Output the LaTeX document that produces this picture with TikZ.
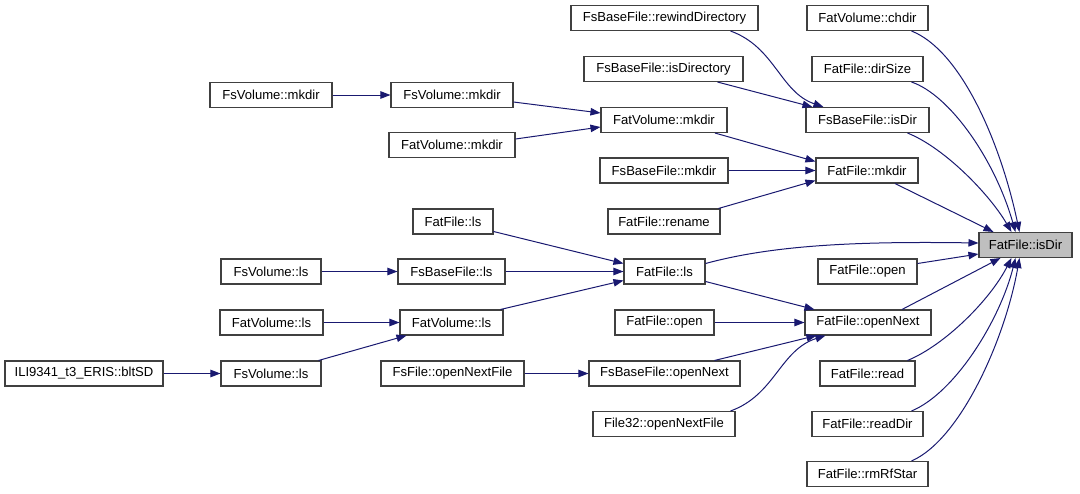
\documentclass[tikz,border=0pt]{standalone}
\usepackage{fontspec}
\setmainfont{Liberation Sans}
\usetikzlibrary{arrows.meta,calc}
\definecolor{edgeblue}{HTML}{191970}
\definecolor{boxline}{HTML}{404040}
\definecolor{focusfill}{HTML}{BFBFBF}
\begin{document}
\begin{tikzpicture}[x=0.75pt,y=-0.75pt,
  fn/.style={draw=boxline,line width=0.8pt,fill=white,rectangle,inner sep=0pt,
    minimum height=25*0.75pt,font=\fontsize{9.8}{12}\selectfont},
  focus/.style={fn,fill=focusfill},
  call/.style={draw=edgeblue,line width=0.75pt,
    -{Triangle[length=7.5pt,width=5.6pt]}}]
\useasboundingbox (0,0) rectangle (1080,493);

% target function
\node[focus,minimum width=93*0.75pt] (isDir) at (1025.5,245) {FatFile::isDir};

% direct callers
\node[fn,minimum width=121*0.75pt] (chdir)    at (867.5,18)    {FatVolume::chdir};
\node[fn,minimum width=111*0.75pt] (dirSize)  at (867.5,69)    {FatFile::dirSize};
\node[fn,minimum width=123*0.75pt] (fsIsDir)  at (867.5,120)   {FsBaseFile::isDir};
\node[fn,minimum width=102*0.75pt] (fatMkdir) at (867,170.5)   {FatFile::mkdir};
\node[fn,minimum width=99*0.75pt]  (fatOpenR) at (867.5,271.5) {FatFile::open};
\node[fn,minimum width=126*0.75pt] (openNext) at (868,322.5)   {FatFile::openNext};
\node[fn,minimum width=95*0.75pt]  (read)     at (867.5,373.5) {FatFile::read};
\node[fn,minimum width=111*0.75pt] (readDir)  at (867.5,424)   {FatFile::readDir};
\node[fn,minimum width=121*0.75pt] (rmRfStar) at (867.5,474)   {FatFile::rmRfStar};

% second level
\node[fn,minimum width=187*0.75pt] (rewindDir)      at (664.5,18)    {FsBaseFile::rewindDirectory};
\node[fn,minimum width=159*0.75pt] (isDirectory)    at (663.5,69)    {FsBaseFile::isDirectory};
\node[fn,minimum width=126*0.75pt] (fatVolMkdirR)   at (664,120)     {FatVolume::mkdir};
\node[fn,minimum width=128*0.75pt] (fsBaseMkdir)    at (664,170.5)   {FsBaseFile::mkdir};
\node[fn,minimum width=112*0.75pt] (rename)         at (664,221.5)   {FatFile::rename};
\node[fn,minimum width=81*0.75pt]  (fatLsM)         at (664.5,271.5) {FatFile::ls};
\node[fn,minimum width=99*0.75pt]  (fatOpenM)       at (664.5,322.5) {FatFile::open};
\node[fn,minimum width=151*0.75pt] (fsBaseOpenNext) at (664.5,373.5) {FsBaseFile::openNext};
\node[fn,minimum width=142*0.75pt] (file32)         at (664,424)     {File32::openNextFile};

% third level
\node[fn,minimum width=122*0.75pt] (fsVolMkdirM)    at (452,95)      {FsVolume::mkdir};
\node[fn,minimum width=126*0.75pt] (fatVolMkdirL)   at (452,145)     {FatVolume::mkdir};
\node[fn,minimum width=80*0.75pt]  (fatLsL)         at (453,221.5)   {FatFile::ls};
\node[fn,minimum width=107*0.75pt] (fsBaseLs)       at (451.5,271.5) {FsBaseFile::ls};
\node[fn,minimum width=103*0.75pt] (fatVolLsM)      at (451.5,322.5) {FatVolume::ls};
\node[fn,minimum width=143*0.75pt] (fsFileOpenNext) at (452.5,373.5) {FsFile::openNextFile};

% fourth level
\node[fn,minimum width=122*0.75pt] (fsVolMkdirL) at (271,95)      {FsVolume::mkdir};
\node[fn,minimum width=100*0.75pt] (fsVolLsT)    at (271,271.5)   {FsVolume::ls};
\node[fn,minimum width=103*0.75pt] (fatVolLsL)   at (271.5,322.5) {FatVolume::ls};
\node[fn,minimum width=100*0.75pt] (fsVolLsB)    at (271,373.5)   {FsVolume::ls};

% fifth level
\node[fn,minimum width=158*0.75pt] (bltSD) at (84,373.5) {ILI9341\_t3\_ERIS::bltSD};

% --- call edges ---
\draw[call] (fsVolMkdirL.east) -- (fsVolMkdirM.west);
\draw[call] ($(fsVolMkdirM.east)+(0,7)$) -- ($(fatVolMkdirR.west)+(0,-7)$);
\draw[call] ($(fatVolMkdirL.east)+(0,-6)$) -- ($(fatVolMkdirR.west)+(0,7)$);
\draw[call] ($(fatVolMkdirR.south)+(51,0)$) -- ($(fatMkdir.west)+(0,-9)$);
\draw[call] (fsBaseMkdir.east) -- (fatMkdir.west);
\draw[call] ($(rename.north east)+(-2,0)$) -- ($(fatMkdir.west)+(0,10)$);

\draw[call] ($(fatLsL.east)+(0,10)$) -- ($(fatLsM.west)+(0,-8)$);
\draw[call] (fsVolLsT.east) -- (fsBaseLs.west);
\draw[call] (fsBaseLs.east) -- (fatLsM.west);
\draw[call] (fatVolLsL.east) -- (fatVolLsM.west);
\draw[call] ($(fatVolLsM.north east)+(-3,0)$) -- ($(fatLsM.west)+(0,9)$);
\draw[call] (bltSD.east) -- (fsVolLsB.west);
\draw[call] ($(fsVolLsB.north east)+(-3,0)$) -- ($(fatVolLsM.south west)+(7,0)$);
\draw[call] (fsFileOpenNext.east) -- (fsBaseOpenNext.west);

\draw[call] ($(fatLsM.east)+(0,10)$) -- ($(openNext.north west)+(10,0)$);
\draw[call] (fatOpenM.east) -- (openNext.west);
\draw[call] ($(fsBaseOpenNext.north)+(50,0)$) -- ($(openNext.south west)+(12,0)$);
\draw[call] ($(file32.north east)+(-5,0)$) .. controls (775,395) and (780,350) .. ($(openNext.south west)+(21,0)$);

\draw[call] ($(rewindDir.south east)+(-28,0)$) .. controls (775,47) and (780,92) .. ($(fsIsDir.north west)+(18,0)$);
\draw[call] ($(isDirectory.south east)+(-26,0)$) -- ($(fsIsDir.north west)+(7,0)$);

% edges into FatFile::isDir
\draw[call] ($(chdir.south)+(44,0)$) .. controls (960,50) and (1000,140) .. ($(isDir.north west)+(41,0)$);
\draw[call] ($(dirSize.south)+(44,0)$) .. controls (950,95) and (995,160) .. ($(isDir.north west)+(37,0)$);
\draw[call] ($(fsIsDir.south)+(40,0)$) .. controls (945,148) and (990,195) .. ($(isDir.north west)+(33,0)$);
\draw[call] ($(fatMkdir.south)+(28,0)$) -- ($(isDir.north west)+(15,0)$);
\draw[call] ($(fatLsM.east)+(0,-8)$) .. controls (770,246) and (850,241) .. ($(isDir.west)+(0,-2)$);
\draw[call] ($(fatOpenR.east)+(0,-8)$) -- ($(isDir.west)+(0,9)$);
\draw[call] ($(openNext.north)+(34,0)$) -- ($(isDir.south west)+(22,0)$);
\draw[call] ($(read.north)+(40,0)$) .. controls (945,345) and (990,300) .. ($(isDir.south west)+(33,0)$);
\draw[call] ($(readDir.north)+(44,0)$) .. controls (955,393) and (1000,320) .. ($(isDir.south west)+(37,0)$);
\draw[call] ($(rmRfStar.north)+(44,0)$) .. controls (960,440) and (1005,340) .. ($(isDir.south west)+(41,0)$);
\end{tikzpicture}
\end{document}
